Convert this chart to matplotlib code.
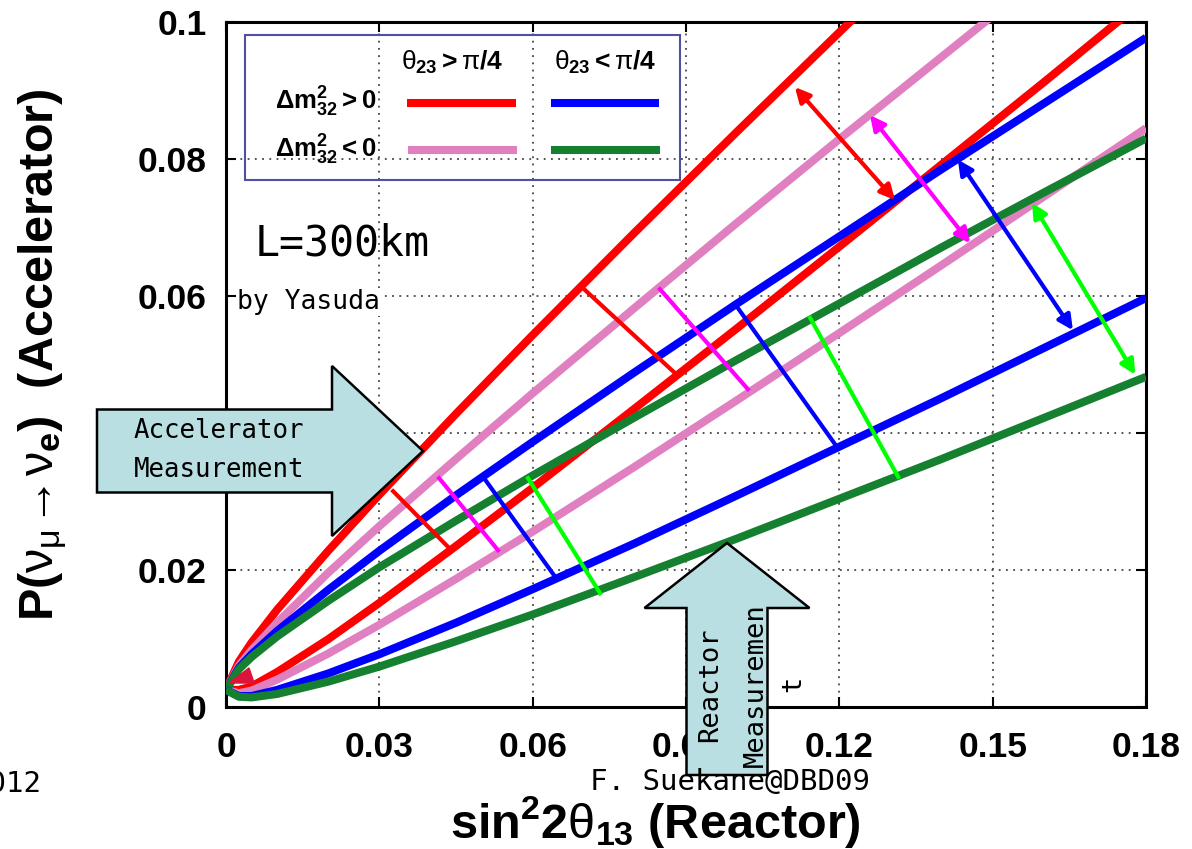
import matplotlib
matplotlib.use('Agg')
import matplotlib.pyplot as plt
from matplotlib.patches import Polygon, Rectangle
from matplotlib.lines import Line2D

plt.rcParams['mathtext.fontset'] = 'custom'
plt.rcParams['mathtext.rm'] = 'Liberation Sans:bold'
plt.rcParams['mathtext.bf'] = 'Liberation Sans:bold'
plt.rcParams['mathtext.it'] = 'Liberation Sans'
plt.rcParams['mathtext.default'] = 'bf'

# sin^2 2theta13 values where curves were read
s13 = [0, 0.0025, 0.005, 0.01, 0.02, 0.03, 0.045, 0.06, 0.08, 0.1, 0.12, 0.14, 0.16, 0.18]

# P(numu->nue), upper family
red_hi = [0.0025, 0.0066, 0.0094, 0.0142, 0.0228, 0.031, 0.0428, 0.0543, 0.0693, 0.084, 0.0985, 0.113, 0.127, 0.141]
pink_hi = [0.0025, 0.0060, 0.0083, 0.0123, 0.0196, 0.0264, 0.0362, 0.0458, 0.0583, 0.0707, 0.0829, 0.0949, 0.1069, 0.119]
blue_hi = [0.0025, 0.0057, 0.0077, 0.0111, 0.0171, 0.0228, 0.0309, 0.0387, 0.0489, 0.0589, 0.0687, 0.0785, 0.0881, 0.0977]
green_hi = [0.0025, 0.0055, 0.0073, 0.0103, 0.0155, 0.0204, 0.0272, 0.0338, 0.0423, 0.0507, 0.0589, 0.0671, 0.0751, 0.083]
# lower family
red_lo = [0.0025, 0.0025, 0.0030, 0.0051, 0.0099, 0.0152, 0.0235, 0.032, 0.0436, 0.0553, 0.0672, 0.0792, 0.0912, 0.1034]
pink_lo = [0.0025, 0.0020, 0.0024, 0.0040, 0.0078, 0.012, 0.0187, 0.0256, 0.0351, 0.0448, 0.0546, 0.0645, 0.0745, 0.0845]
blue_lo = [0.0025, 0.0016, 0.0016, 0.0025, 0.0049, 0.0077, 0.0123, 0.0172, 0.0239, 0.0309, 0.038, 0.0451, 0.0524, 0.0597]
green_lo = [0.0025, 0.0015, 0.0014, 0.0019, 0.0037, 0.0059, 0.0096, 0.0135, 0.019, 0.0246, 0.0304, 0.0362, 0.0422, 0.0482]

# connecting bars (x0, y0, x1, y1)
bars = [('#ff0000', 0.0327, 0.0315, 0.0442, 0.0228),
        ('#ff00ff', 0.0417, 0.0334, 0.0532, 0.0229),
        ('#0000ff', 0.0503, 0.0336, 0.0646, 0.0188),
        ('#00ff00', 0.0591, 0.0334, 0.0732, 0.0166),
        ('#ff0000', 0.0702, 0.0609, 0.0882, 0.0485),
        ('#ff00ff', 0.0849, 0.0610, 0.1021, 0.0464),
        ('#0000ff', 0.1000, 0.0584, 0.1195, 0.0380),
        ('#00ff00', 0.1143, 0.0568, 0.1315, 0.0336)]
# double arrows (x0, y0, x1, y1)
darrows = [('#ff0000', 0.1113, 0.0905, 0.1309, 0.0740),
           ('#ff00ff', 0.1260, 0.0864, 0.1456, 0.0677),
           ('#0000ff', 0.1432, 0.0799, 0.1657, 0.0550),
           ('#00ff00', 0.1577, 0.0736, 0.1779, 0.0485)]

xticks = [0, 0.03, 0.06, 0.09, 0.12, 0.15, 0.18]
xlabels = ['0', '0.03', '0.06', '0.09', '0.12', '0.15', '0.18']
yticks = [0, 0.02, 0.04, 0.06, 0.08, 0.1]
ylabels = ['0', '0.02', '0.04', '0.06', '0.08', '0.1']

RED, PINK, BLUE, GREEN = '#ff0000', '#e080c0', '#0000ff', '#158030'

W, H = 1192, 849
def fx(x):
    return x / W
def fy(y):
    return 1 - y / H

fig = plt.figure(figsize=(W / 100, H / 100), dpi=100)
ax = fig.add_axes([fx(226), fy(707), 920 / W, 685 / H])

lw = 5.8
for y, c in [(red_hi, RED), (pink_hi, PINK), (red_lo, RED), (pink_lo, PINK),
             (blue_hi, BLUE), (green_hi, GREEN), (blue_lo, BLUE), (green_lo, GREEN)]:
    ax.plot(s13, y, color=c, lw=lw, solid_capstyle='butt', solid_joinstyle='round', zorder=3)
ax.fill([0.0006, 0.0045, 0.0055], [0.0035, 0.0057, 0.0035], color='#dc143c', zorder=3)

for c, x0, y0, x1, y1 in bars:
    ax.plot([x0, x1], [y0, y1], color=c, lw=3, zorder=4)
for c, x0, y0, x1, y1 in darrows:
    ax.annotate('', xy=(x1, y1), xytext=(x0, y0),
                arrowprops=dict(arrowstyle='<|-|>', color=c, lw=3, mutation_scale=22,
                                shrinkA=0, shrinkB=0), zorder=4)

ax.set_xlim(0, 0.18)
ax.set_ylim(0, 0.1)
ax.set_xticks(xticks)
ax.set_xticklabels(xlabels)
ax.set_yticks(yticks)
ax.set_yticklabels(ylabels)
ax.grid(True, color='#444444', lw=1.3, linestyle=(0, (1, 3)))
for s in ax.spines.values():
    s.set_linewidth(2.2)
ax.tick_params(direction='in', length=7, width=1.5, top=True, right=True, pad=14)
for t in ax.get_xticklabels() + ax.get_yticklabels():
    t.set_fontfamily('Liberation Sans')
    t.set_fontweight('bold')
    t.set_fontsize(25.5)
ax.tick_params(axis='x', pad=17)

# legend box
ax.add_patch(Rectangle((0.0207, 0.769), 0.4728, 0.212, transform=ax.transAxes,
                       fill=False, edgecolor='#5050a0', lw=1.5, zorder=5))
tk = dict(transform=ax.transAxes, zorder=6)
ax.text(0.2457, 0.9416, r'$\mathit{\theta}_{23}{>}\mathit{\pi}/4$', ha='center', va='center', fontsize=19, **tk)
ax.text(0.412, 0.9416, r'$\mathit{\theta}_{23}{<}\mathit{\pi}/4$', ha='center', va='center', fontsize=19, **tk)
ax.text(0.163, 0.884, r'$\Delta m^2_{32}{>}0$', ha='right', va='center', fontsize=18.5, **tk)
ax.text(0.163, 0.814, r'$\Delta m^2_{32}{<}0$', ha='right', va='center', fontsize=18.5, **tk)
for x0, x1, yy, c in [(0.197, 0.315, 0.882, RED), (0.353, 0.471, 0.882, BLUE),
                      (0.198, 0.316, 0.813, PINK), (0.353, 0.472, 0.813, GREEN)]:
    ax.add_line(Line2D([x0, x1], [yy, yy], transform=ax.transAxes, color=c, lw=lw,
                       solid_capstyle='butt', zorder=6))

mono = 'DejaVu Sans Mono'
fig.text(fx(255), fy(256), 'L=300km', family=mono, fontsize=30, va='baseline')
fig.text(fx(237), fy(309), 'by Yasuda', family=mono, fontsize=19, va='baseline',
         bbox=dict(facecolor='white', edgecolor='none', pad=1), zorder=5)

# axis titles
fig.text(fx(655), fy(838), r'$sin^22\mathit{\theta}_{13}$ (Reactor)', family='Liberation Sans',
         fontweight='bold', fontsize=35, ha='center', va='baseline')
fig.text(fx(53), fy(355), r'$P(\mathit{\nu}_{\mathit{\mu}}\!\rightarrow\! \mathit{\nu}_{e})$  (Accelerator)',
         family='Liberation Sans', fontweight='bold', fontsize=35, rotation=90,
         rotation_mode='anchor', ha='center', va='baseline')

# block arrows
def block_arrow(tail, tip, body_w, head_w, head_len):
    dx, dy = tip[0] - tail[0], tip[1] - tail[1]
    n = (dx * dx + dy * dy) ** 0.5
    ux, uy = dx / n, dy / n
    nx, ny = -uy, ux
    bx, by = tip[0] - ux * head_len, tip[1] - uy * head_len
    pts = [(tail[0] + nx * body_w / 2, tail[1] + ny * body_w / 2),
           (bx + nx * body_w / 2, by + ny * body_w / 2),
           (bx + nx * head_w / 2, by + ny * head_w / 2),
           tip,
           (bx - nx * head_w / 2, by - ny * head_w / 2),
           (bx - nx * body_w / 2, by - ny * body_w / 2),
           (tail[0] - nx * body_w / 2, tail[1] - ny * body_w / 2)]
    pts = [(fx(p[0]), fy(p[1])) for p in pts]
    fig.add_artist(Polygon(pts, closed=True, transform=fig.transFigure,
                           facecolor='#b9dfe2', edgecolor='black', lw=1.8, zorder=10))

block_arrow((97, 451), (423, 451), 83, 170, 91)
block_arrow((727, 775), (727, 543), 81, 165, 65)

fig.text(fx(134), fy(438), 'Accelerator', family=mono, fontsize=18.5, va='baseline', zorder=11)
fig.text(fx(134), fy(477), 'Measurement', family=mono, fontsize=18.5, va='baseline', zorder=11)
rk = dict(family=mono, fontsize=19.5, rotation=90, rotation_mode='anchor',
          ha='left', va='baseline', zorder=11)
fig.text(fx(717), fy(742), 'Reactor', **rk)
fig.text(fx(763), fy(767), 'Measuremen', **rk)
fig.text(fx(800), fy(692), 't', **rk)

fig.text(fx(590), fy(790), 'F. Suekane@DBD09', family=mono, fontsize=21, va='baseline', zorder=12)
fig.text(fx(42), fy(792), '2012', family=mono, fontsize=21, va='baseline', ha='right')

fig.savefig('out.png', dpi=100)
